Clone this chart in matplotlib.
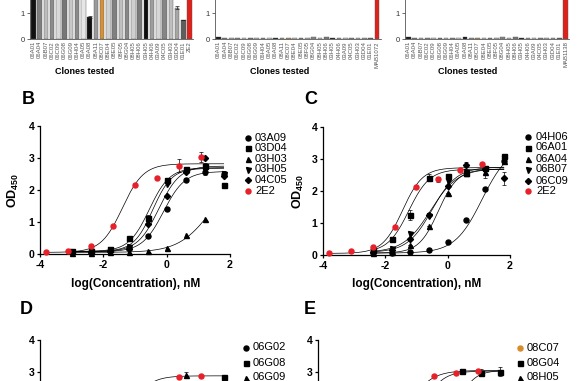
#!/usr/bin/env python3
# clone screening bars + dose response curves (B-E)
import numpy as np
import matplotlib
matplotlib.use('Agg')
import matplotlib.pyplot as plt
from matplotlib.lines import Line2D

plt.rcParams['font.family'] = ['Liberation Sans', 'DejaVu Sans']
plt.rcParams['axes.unicode_minus'] = False
plt.rcParams['mathtext.fontset'] = 'custom'
plt.rcParams['mathtext.rm'] = 'Liberation Sans'
plt.rcParams['mathtext.bf'] = 'Liberation Sans:bold'

W, H = 587, 381

### data - top row screening bars
clones = ['06A01', '06A04', '06B07', '06C02', '06C09', '06G08', '06G09', '06H04',
          '06A05', '06A08', '08A11', '08C07', '08E04', '08E05', '08F05', '08G04',
          '08H05', '08H06', '03H05', '04H06', '03A09', '04C05', '03H03', '03D04', '01E01']
controls = ['2E2', 'MAB1072', 'MAB1138']
clone_colors = ['#111111', '#7f7f7f', '#bdbdbd', '#8c8c8c', '#d9d9d9', '#777777', '#c8c8c8',
                '#8a8a8a', '#e6e6e6', '#111111', '#9a9a9a', '#d4913a', '#d0d0d0', '#808080',
                '#c0c0c0', '#888888', '#cfcfcf', '#7a7a7a', '#0d0d0d', '#9e9e9e', '#d6d6d6',
                '#858585', '#bfbfbf', '#a6a6a6', '#5e5e5e']
ctrl_color = '#e0201b'

od_screen1 = [3.0, 3.0, 3.0, 3.0, 3.0, 3.0, 3.0, 3.0, 3.0, 0.85, 3.0, 3.0, 3.0, 3.0, 3.0,
              3.0, 3.0, 3.0, 3.0, 3.0, 3.0, 3.0, 3.0, 1.2, 0.72, 3.2]
err_screen1 = [0, 0, 0, 0, 0, 0, 0, 0, 0, 0.05, 0, 0, 0, 0, 0, 0, 0, 0, 0, 0, 0, 0, 0,
               0.06, 0, 0]
od_screen2 = [0.06, 0.05, 0.04, 0.05, 0.05, 0.05, 0.05, 0.05, 0.04, 0.05, 0.05, 0.04, 0.05,
              0.05, 0.05, 0.08, 0.05, 0.06, 0.05, 0.05, 0.04, 0.05, 0.05, 0.05, 0.05, 3.0]
od_screen3 = [0.06, 0.05, 0.05, 0.05, 0.05, 0.05, 0.05, 0.05, 0.05, 0.06, 0.05, 0.05, 0.05,
              0.05, 0.05, 0.06, 0.05, 0.06, 0.05, 0.05, 0.05, 0.05, 0.05, 0.05, 0.05, 3.0]

### data - dose response (log nM)
x4 = [-3.0, -2.4, -1.8, -1.2, -0.6, 0.0, 0.6, 1.2, 1.8]
x4c = [-2.4, -1.8, -1.2, -0.6, 0.0, 0.6, 1.2, 1.8]
x5 = [-3.8, -3.1, -2.4, -1.7, -1.0, -0.3, 0.4, 1.1]

# panel B
b_03A09 = [0.05, 0.07, 0.09, 0.18, 0.55, 1.42, 2.32, 2.55, 2.5]
b_03D04 = [0.08, 0.1, 0.17, 0.5, 1.13, 2.3, 2.66, 2.75, 2.15]
b_03H03 = [0.03, 0.04, 0.05, 0.06, 0.1, 0.2, 0.58, 1.08, np.nan]
b_03H05 = [0.05, 0.08, 0.12, 0.22, 1.05, 2.2, 2.6, 2.72, 2.5]
b_04C05 = [0.05, 0.07, 0.1, 0.15, 0.95, 1.8, 2.55, 3.0, 2.45]
b_2E2 = [0.07, 0.1, 0.26, 0.86, 2.15, 2.37, 2.76, 3.04]
b_err_2E2 = [0, 0, 0, 0, 0, 0, 0.2, 0.15]
b_err_03A09 = [0, 0, 0, 0, 0, 0, 0, 0.08, 0.1]
b_err_03D04 = [0, 0, 0, 0, 0.08, 0, 0, 0.1, 0]
# fit params: bottom, top, logEC50, hill
b_fit = {'03A09': (0.07, 2.58, -0.1, 1.3), '03D04': (0.08, 2.7, -0.55, 1.35),
         '03H03': (0.05, 2.6, 1.4, 0.85), '03H05': (0.08, 2.68, -0.44, 1.45),
         '04C05': (0.07, 2.75, -0.25, 1.3), '2E2': (0.05, 2.82, -1.4, 1.3)}

# panel C
c_04H06 = [0.05, 0.05, 0.08, 0.15, 0.42, 1.08, 2.07, 2.95]
c_06A01 = [0.15, 0.5, 1.25, 2.42, 2.47, 2.57, 2.72, 3.1]
c_06A04 = [0.05, 0.1, 0.3, 0.9, 1.95, 2.55, 2.58, 2.95]
c_06B07 = [0.1, 0.2, 0.65, 1.22, 2.3, 2.6, 2.7, 3.0]
c_06C09 = [0.08, 0.15, 0.5, 1.25, 2.15, 2.82, 2.7, 2.4]
c_2E2 = [0.07, 0.12, 0.26, 0.89, 2.14, 2.37, 2.66, 2.84]
c_err_06A01 = [0, 0, 0.15, 0.1, 0, 0, 0, 0]
c_err_06A04 = [0, 0, 0, 0, 0, 0, 0.17, 0]
c_err_06C09 = [0, 0, 0, 0, 0, 0.08, 0, 0.2]
c_err_2E2 = [0, 0, 0, 0, 0, 0.08, 0, 0.05]
c_fit = {'04H06': (0.06, 3.4, 1.1, 1.0), '06A01': (0.08, 2.68, -1.25, 1.3),
         '06A04': (0.06, 2.68, -0.3, 1.4), '06B07': (0.08, 2.7, -0.55, 1.0),
         '06C09': (0.08, 2.75, -0.5, 1.1), '2E2': (0.05, 2.73, -1.45, 1.35)}

# panels D and E (only the top of each is in view)
d_x_2E2 = [0.4, 1.1]
d_2E2 = [2.85, 2.88]
d_x_06G08 = [1.8]
d_06G08 = [2.84]
d_x_06G09 = [0.6]
d_06G09 = [2.9]
d_err_06G09 = [0.1]
d_fit_2E2 = (0.05, 2.88, -1.3, 1.3)

e_x_2E2 = [-0.3, 0.4, 1.1]
e_2E2 = [2.875, 2.96, 3.04]
e_x_08G04 = [0.6, 1.2, 1.8]
e_08G04 = [3.04, 2.98, 3.01]
e_err_08G04 = [0, 0.12, 0.15]
e_fit = {'2E2': (0.05, 3.05, -1.3, 1.1), '08G04': (0.05, 3.03, -0.8, 1.3),
         '08H05': (0.05, 3.05, 0.3, 1.5)}


def box(left, top, right, bottom):
    # pixel box -> figure fraction rect
    return [left / W, 1 - bottom / H, (right - left) / W, (bottom - top) / H]


def logistic(xs, p):
    bottom, top, ec, hill = p
    return bottom + (top - bottom) / (1 + 10 ** ((ec - xs) * hill))


fig = plt.figure(figsize=(W / 100, H / 100), dpi=100)


def bar_panel(left, right, vals, errs, labels, label_x):
    ax = fig.add_axes(box(left, 39 - 3.5 * 26, right, 39))
    x = np.arange(len(vals))
    ax.bar(x, vals, width=0.74, color=clone_colors + [ctrl_color],
           edgecolor='#555555', linewidth=0.3)
    if errs is not None:
        ax.errorbar(x, vals, yerr=errs, fmt='none', ecolor='#222222',
                    elinewidth=0.5, capsize=1.2, capthick=0.5)
    ax.set_xlim(-0.55, len(vals) - 0.45)
    ax.set_ylim(0, 3.5)
    ax.set_yticks([0, 1])
    ax.set_xticks(x)
    ax.set_xticklabels(labels, rotation=90, fontsize=4.3, color='#555555')
    ax.tick_params(axis='x', length=0, pad=1.5)
    ax.tick_params(axis='y', length=2, width=0.6, labelsize=5.5, pad=1.5,
                   labelcolor='#333333', color='#555555')
    for s in ['top', 'right']:
        ax.spines[s].set_visible(False)
    ax.spines['left'].set_linewidth(0.6)
    ax.spines['bottom'].set_linewidth(0.6)
    ax.spines['left'].set_color('#555555')
    ax.spines['bottom'].set_color('#555555')
    fig.text(label_x / W, 1 - 71 / H, 'Clones tested', ha='center', va='center',
             fontsize=6.5, fontweight='bold')


bar_panel(29.9, 193.1, od_screen1, err_screen1, clones + [controls[0]], 85)
bar_panel(215.0, 380.5, od_screen2, None, clones + [controls[1]], 280)
bar_panel(405.0, 569.0, od_screen3, None, clones + [controls[2]], 468)


def curve_axes(left, top, right, bottom, cropped=False):
    ax = fig.add_axes(box(left, top, right, bottom))
    ax.set_xlim(-4, 2)
    ax.set_ylim(0, 4)
    ax.set_xticks([-4, -2, 0, 2])
    ax.set_yticks([0, 1, 2, 3, 4])
    for s in ['top', 'right']:
        ax.spines[s].set_visible(False)
    for s in ['left', 'bottom']:
        ax.spines[s].set_linewidth(0.9)
    ax.tick_params(length=2.5, width=0.9, labelsize=7.6, pad=1.5)
    if cropped:
        # lower part of these panels lies outside the picture
        ax.set_yticks([3, 4])
        ax.tick_params(axis='x', labelbottom=False)
    for lab in ax.get_xticklabels() + ax.get_yticklabels():
        lab.set_fontweight('bold')
    return ax


def plot_series(ax, x, y, marker, color='black', err=None):
    ms = 3.1 if marker == 'D' else 3.6
    ax.errorbar(x, y, yerr=err, fmt=marker, color=color, ms=ms, mec=color,
                elinewidth=0.5, capsize=1.6, capthick=0.5, ecolor='black',
                zorder=4, clip_on=False)


def plot_fit(ax, p, x0, x1):
    xs = np.linspace(x0, x1, 200)
    ax.plot(xs, logistic(xs, p), color='black', lw=0.5, zorder=3)


def legend(xm, xt, rows, entries):
    for (lab, marker, color), y in zip(entries, rows):
        ms = 3.1 if marker == 'D' else 3.6
        fig.add_artist(Line2D([xm / W], [1 - y / H], marker=marker, color=color,
                              ms=ms, ls='none', transform=fig.transFigure))
        fig.text(xt / W, 1 - y / H, lab, fontsize=8, ha='left', va='center')


red = '#e8202a'
orange = '#d98a2b'

# panel B
axB = curve_axes(40, 126, 230, 254)
for name, vals, mk, err in [('03A09', b_03A09, 'o', b_err_03A09),
                            ('03D04', b_03D04, 's', b_err_03D04),
                            ('03H03', b_03H03, '^', None),
                            ('03H05', b_03H05, 'v', None),
                            ('04C05', b_04C05, 'D', None)]:
    plot_series(axB, x4, vals, mk, err=err)
    plot_fit(axB, b_fit[name], -3.0, 1.2 if name == '03H03' else 1.8)
plot_series(axB, x5, b_2E2, 'o', red, b_err_2E2)
plot_fit(axB, b_fit['2E2'], -3.8, 1.8)
legend(248, 255, [137.7, 148.3, 158.9, 169.5, 180.1, 190.7],
       [('03A09', 'o', 'black'), ('03D04', 's', 'black'), ('03H03', '^', 'black'),
        ('03H05', 'v', 'black'), ('04C05', 'D', 'black'), ('2E2', 'o', red)])

# panel C
axC = curve_axes(323, 127, 510, 255)
for name, vals, mk, err in [('04H06', c_04H06, 'o', None),
                            ('06A01', c_06A01, 's', c_err_06A01),
                            ('06A04', c_06A04, '^', c_err_06A04),
                            ('06B07', c_06B07, 'v', None),
                            ('06C09', c_06C09, 'D', c_err_06C09)]:
    plot_series(axC, x4c, vals, mk, err=err)
    plot_fit(axC, c_fit[name], -2.4, 1.8)
plot_series(axC, x5, c_2E2, 'o', red, c_err_2E2)
plot_fit(axC, c_fit['2E2'], -3.8, 1.8)
legend(528, 536, [136.5, 147.5, 158.5, 169.5, 180.5, 191.5],
       [('04H06', 'o', 'black'), ('06A01', 's', 'black'), ('06A04', '^', 'black'),
        ('06B07', 'v', 'black'), ('06C09', 'D', 'black'), ('2E2', 'o', red)])

# panel D (cut off at the bottom)
axD = curve_axes(40, 340, 230, 468, cropped=True)
plot_fit(axD, d_fit_2E2, -3.8, 1.8)
plot_series(axD, d_x_06G09, d_06G09, '^', err=d_err_06G09)
plot_series(axD, d_x_06G08, d_06G08, 's')
plot_series(axD, d_x_2E2, d_2E2, 'o', red)
legend(246, 253, [347.5, 362.5, 377.5],
       [('06G02', 'o', 'black'), ('06G08', 's', 'black'), ('06G09', '^', 'black')])

# panel E (cut off at the bottom)
axE = curve_axes(318, 340, 506, 468, cropped=True)
for name in ['2E2', '08G04', '08H05']:
    plot_fit(axE, e_fit[name], -3.8 if name == '2E2' else -3.0, 1.8)
plot_series(axE, e_x_08G04, e_08G04, 's', err=e_err_08G04)
plot_series(axE, e_x_2E2, e_2E2, 'o', red)
legend(520, 527, [348, 362.5, 377.5],
       [('08C07', 'o', orange), ('08G04', 's', 'black'), ('08H05', '^', 'black')])

# axis titles and panel letters
for xp, yp in [(13, 190), (298, 191)]:
    fig.text(xp / W, 1 - yp / H, r'$\mathbf{OD_{450}}$', rotation=90,
             ha='center', va='center', fontsize=9)
for xp in [136, 417]:
    fig.text(xp / W, 1 - 284 / H, 'log(Concentration), nM', ha='center',
             va='center', fontsize=8.5, fontweight='bold')
for lab, xp, yp in [('B', 28, 100), ('C', 311, 100), ('D', 26, 309), ('E', 310, 309)]:
    fig.text(xp / W, 1 - yp / H, lab, ha='center', va='center', fontsize=13,
             fontweight='bold')

fig.savefig('out.png', dpi=100)
